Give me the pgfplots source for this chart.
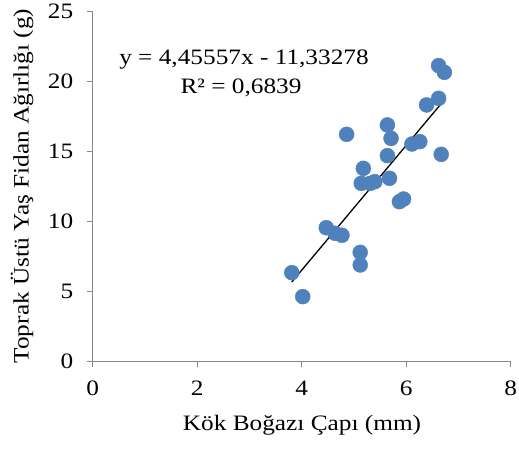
\documentclass[border=0pt]{standalone}
\usepackage{pgfplots}
\pgfplotsset{compat=1.18}
\usepackage{fontspec}
\setmainfont[FakeStretch=1.15]{Liberation Serif}
\definecolor{ptblue}{HTML}{4F81BD}
\definecolor{axgray}{HTML}{888888}
\begin{document}
\begin{tikzpicture}[x=1pt,y=1pt]
\begin{axis}[
  at={(0,0)}, anchor=south west,
  scale only axis,
  width=418pt, height=350pt,
  xmin=0, xmax=8, ymin=0, ymax=25,
  xtick={0,2,4,6,8}, ytick={0,5,10,15,20,25},
  axis x line*=bottom, axis y line*=left,
  axis line style={axgray, line width=1pt},
  tick style={axgray, line width=1pt},
  tick align=outside, major tick length=6pt,
  x axis line style={-}, y axis line style={-},
  ticklabel style={font=\fontsize{22}{26}\selectfont},
  /pgf/number format/assume math mode=true,
  xticklabel style={yshift=-10pt},
  yticklabel style={xshift=-10pt},
  clip=false,
]
\addplot[only marks, mark=*, mark size=7.5pt, mark options={fill=ptblue, draw=ptblue}, color=ptblue] coordinates {
(3.81,6.31) (4.02,4.60) (4.47,9.52) (4.64,9.12) (4.77,8.98) (4.86,16.19)
(5.12,7.76) (5.12,6.86) (5.18,13.76) (5.14,12.69) (5.31,12.69) (5.40,12.81)
(5.64,16.86) (5.71,15.90) (5.64,14.67) (5.68,13.05) (5.87,11.38) (5.95,11.57)
(6.11,15.50) (6.26,15.67) (6.39,18.29) (6.62,18.76) (6.62,21.10) (6.73,20.62)
(6.67,14.76)
};
\addplot[black, line width=1.3pt] coordinates {(3.81,5.64) (6.73,18.65)};
\end{axis}
\node[font=\fontsize{22}{26}\selectfont] at (244-92.7, 361-60) {y = 4,45557x - 11,33278};
\node[font=\fontsize{22}{26}\selectfont] at (241-92.7, 361-88) {R² = 0,6839};
\node[font=\fontsize{22}{26}\selectfont] at (302-92.7, 361-425) {Kök Boğazı Çapı (mm)};
\node[font=\fontsize{22}{26}\selectfont, rotate=90] at (22-92.7, 361-186) {Toprak Üstü Yaş Fidan Ağırlığı (g)};
\pgfresetboundingbox
\path[use as bounding box] (-92.7,-87) rectangle (426.3,361);
\end{tikzpicture}
\end{document}
